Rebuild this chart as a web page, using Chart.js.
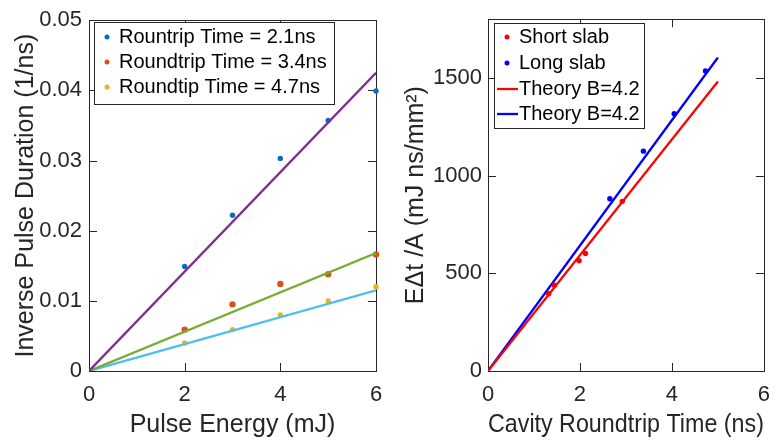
<!DOCTYPE html>
<html>
<head>
<meta charset="utf-8">
<script src="https://cdn.jsdelivr.net/npm/chart.js@4"></script>
<style>
  body { margin: 0; background: #fff; }
  .panel { position: absolute; top: 0; height: 440px; }
  #left { left: 0; width: 400px; }
  #right { left: 395px; width: 386px; }
</style>
</head>
<body>
<div class="panel" id="left"><canvas id="pulse-chart"></canvas></div>
<div class="panel" id="right"><canvas id="cavity-chart"></canvas></div>
<script>
// left panel: inverse pulse duration vs pulse energy
const energy = [2, 3, 4, 5, 6];
const inv21 = [0.0149, 0.0222, 0.0303, 0.0357, 0.0399];
const inv34 = [0.0059, 0.0095, 0.0124, 0.0138, 0.0166];
const inv47 = [0.0040, 0.0059, 0.0080, 0.0100, 0.0120];
const fitEnergy = [0, 6];
const fit21 = [0, 0.0425];
const fit34 = [0, 0.0168];
const fit47 = [0, 0.0115];
const energyTicks = [0, 2, 4, 6];
const invTicks = [0, 0.01, 0.02, 0.03, 0.04, 0.05];

// right panel: E*dt/A vs cavity roundtrip time
const shortTime = [1.32, 1.44, 1.98, 2.12, 2.92];
const shortVal = [395, 439, 564, 601, 868];
const longTime = [2.65, 3.38, 4.05, 4.73];
const longVal = [881, 1125, 1316, 1535];
const theoryTime = [0, 5];
const theoryShort = [0, 1481];
const theoryLong = [0, 1604];
const timeTicks = [0, 2, 4, 6];
const valTicks = [0, 500, 1000, 1500];

const FONT = "'Liberation Sans', Arial, Helvetica, sans-serif";
const INK = "#262626";

const pts = (xs, ys) => xs.map((x, i) => ({ x: x, y: ys[i] }));

function scatterSet(label, xs, ys, color, r) {
    return {
        type: "scatter", label: label, data: pts(xs, ys), showLine: false, clip: false,
        backgroundColor: color, borderColor: color, pointRadius: r, pointBorderWidth: 0
    };
}

function lineSet(label, xs, ys, color) {
    return {
        type: "line", label: label, data: pts(xs, ys), borderColor: color,
        borderWidth: 2.3, pointRadius: 0, fill: false, tension: 0
    };
}

// box around the plot with inward ticks on all sides (under the data),
// then a matlab-like legend on top
const framePlugin = {
    id: "frame",
    beforeDatasetsDraw(chart) {
        const { ctx, chartArea: a, scales } = chart;
        ctx.save();
        ctx.strokeStyle = INK;
        ctx.lineWidth = 1;
        ctx.strokeRect(Math.round(a.left) + 0.5, Math.round(a.top) + 0.5,
            Math.round(a.right - a.left), Math.round(a.bottom - a.top));
        const len = 8;
        ctx.beginPath();
        scales.x.ticks.forEach(t => {
            const px = Math.round(scales.x.getPixelForValue(t.value)) + 0.5;
            ctx.moveTo(px, a.bottom); ctx.lineTo(px, a.bottom - len);
            ctx.moveTo(px, a.top); ctx.lineTo(px, a.top + len);
        });
        scales.y.ticks.forEach(t => {
            const py = Math.round(scales.y.getPixelForValue(t.value)) + 0.5;
            ctx.moveTo(a.left, py); ctx.lineTo(a.left + len, py);
            ctx.moveTo(a.right, py); ctx.lineTo(a.right - len, py);
        });
        ctx.stroke();
        ctx.restore();
    },
    afterDatasetsDraw(chart, args, opts) {
        const ctx = chart.ctx;
        const lg = opts.legend;
        const items = chart.data.datasets.filter(d => d.label);
        ctx.save();
        ctx.fillStyle = "#fff";
        ctx.fillRect(lg.x, lg.y, lg.w, lg.h);
        ctx.strokeStyle = INK;
        ctx.lineWidth = 1;
        ctx.strokeRect(lg.x + 0.5, lg.y + 0.5, lg.w, lg.h);
        ctx.font = "20px " + FONT;
        ctx.textBaseline = "middle";
        items.forEach((d, i) => {
            const cy = lg.rows[i];
            if (d.showLine === false) {
                ctx.fillStyle = d.backgroundColor;
                ctx.beginPath();
                ctx.arc(lg.mark, cy, 2.5, 0, Math.PI * 2);
                ctx.fill();
            } else {
                ctx.strokeStyle = d.borderColor;
                ctx.lineWidth = 2.3;
                ctx.beginPath();
                ctx.moveTo(lg.mark - 10, cy); ctx.lineTo(lg.mark + 11, cy);
                ctx.stroke();
            }
            ctx.fillStyle = "#000";
            ctx.fillText(d.label, lg.text, cy);
        });
        ctx.restore();
    }
};

function axis(min, max, tickValues, title, pad, fit, fmt) {
    return {
        type: "linear", min: min, max: max,
        grid: { display: false, drawTicks: false }, border: { display: false },
        afterFit: fit,
        afterBuildTicks: s => { s.ticks = tickValues.map(v => ({ value: v })); },
        ticks: {
            padding: pad, color: INK,
            font: { family: FONT, size: 22 },
            callback: fmt
        },
        title: { display: true, text: title, color: INK, font: { family: FONT, size: 25 } }
    };
}

// left chart
const leftX = axis(0, 6, energyTicks, "Pulse Energy (mJ)", 11, s => { s.height = 69; }, v => String(v));
leftX.title.padding = { top: 0, bottom: 0 };
const leftY = axis(0, 0.05, invTicks, "Inverse Pulse Duration (1/ns)", 7, s => { s.width = 89; },
    v => String(+v.toFixed(3)));
leftY.title.padding = { top: 11, bottom: 0 };

new Chart(document.getElementById("pulse-chart").getContext("2d"), {
    data: {
        datasets: [
            lineSet(null, fitEnergy, fit21, "#7E2F8E"),
            lineSet(null, fitEnergy, fit34, "#77AC30"),
            lineSet(null, fitEnergy, fit47, "#4DBEEE"),
            scatterSet("Rountrip Time = 2.1ns", energy, inv21, "#0072BD", 2.7),
            scatterSet("Roundtrip Time = 3.4ns", energy, inv34, "#D95319", 3.2),
            scatterSet("Roundtip Time = 4.7ns", energy, inv47, "#EDB120", 2.7)
        ]
    },
    options: {
        responsive: true, maintainAspectRatio: false, animation: false,
        layout: { padding: { top: 15, right: 24, bottom: 0, left: 0 } },
        scales: { x: leftX, y: leftY },
        plugins: {
            legend: { display: false }, tooltip: { enabled: false },
            frame: { legend: { x: 94, y: 22, w: 240, h: 82, rows: [37, 62, 87], mark: 107, text: 119 } }
        }
    },
    plugins: [framePlugin]
});

// right chart
const rightX = axis(0, 6, timeTicks, "Cavity Roundtrip Time (ns)", 11, s => { s.height = 69; }, v => String(v));
rightX.title.padding = { top: 0, bottom: 0 };
rightX.title.font.size = 26;
const rightY = axis(0, 1800, valTicks, "EΔt /A (mJ ns/mm²)", 6, s => { s.width = 93; }, v => String(v));
rightY.title.padding = { top: 6, bottom: 0 };

new Chart(document.getElementById("cavity-chart").getContext("2d"), {
    data: {
        datasets: [
            scatterSet("Short slab", shortTime, shortVal, "#FF0000", 2.7),
            scatterSet("Long slab", longTime, longVal, "#0000FF", 2.7),
            lineSet("Theory B=4.2", theoryTime, theoryShort, "#FF0000"),
            lineSet("Theory B=4.2", theoryTime, theoryLong, "#0000FF")
        ]
    },
    options: {
        responsive: true, maintainAspectRatio: false, animation: false,
        layout: { padding: { top: 15, right: 6, bottom: 0, left: 0 } },
        scales: { x: rightX, y: rightY },
        plugins: {
            legend: { display: false }, tooltip: { enabled: false },
            frame: { legend: { x: 99, y: 23, w: 150, h: 105, rows: [37, 63, 89, 114], mark: 112, text: 124 } }
        }
    },
    plugins: [framePlugin]
});
</script>
</body>
</html>
